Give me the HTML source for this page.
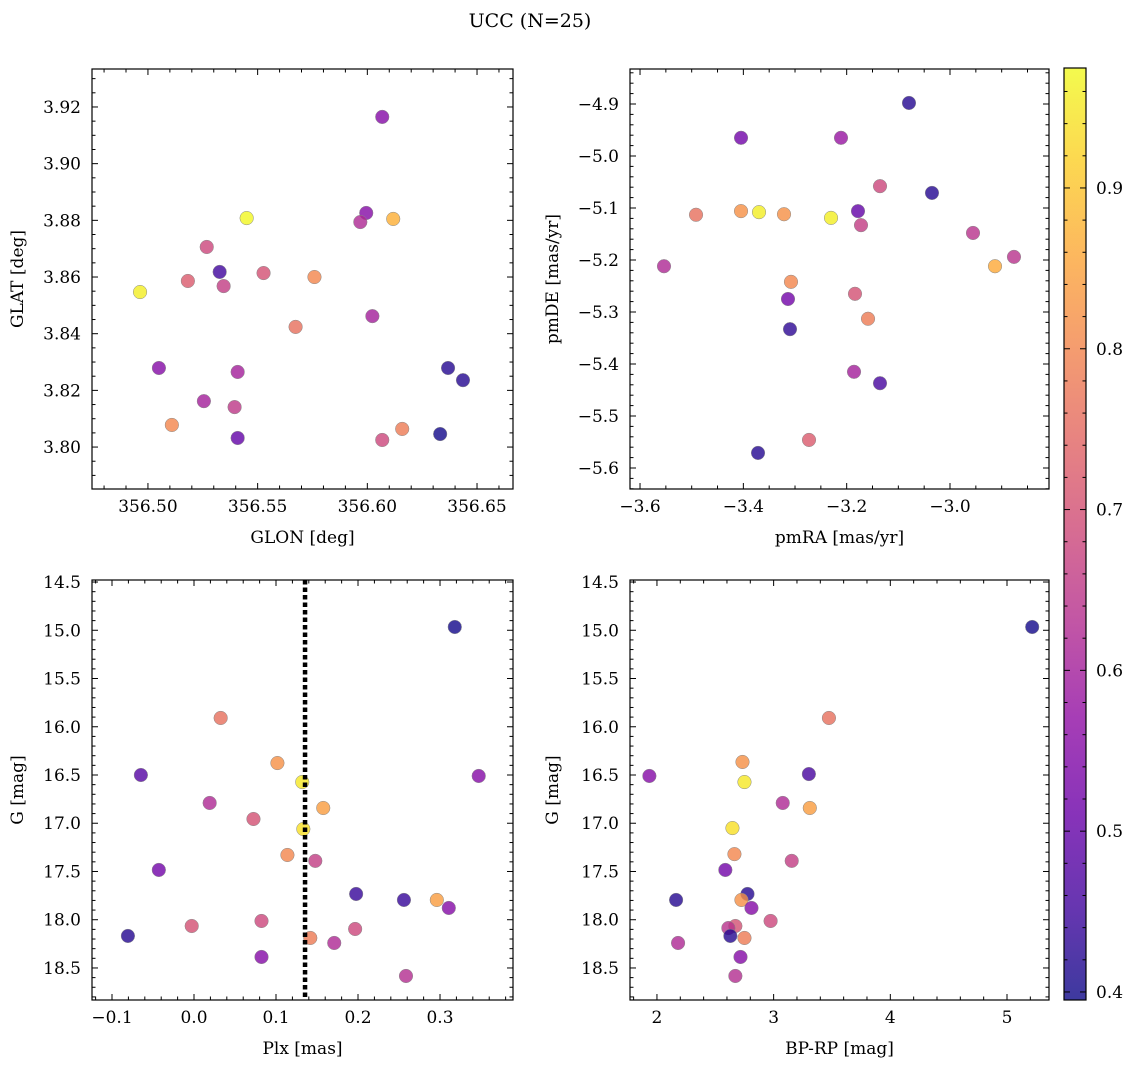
<!DOCTYPE html>
<html><head><meta charset="utf-8"><style>
html,body{margin:0;padding:0;background:#fff;}
svg{display:block;font-family:"DejaVu Serif","Liberation Serif",serif;}
</style></head><body>
<svg id="fig" width="1136" height="1068" viewBox="0 0 1136 1068" xmlns="http://www.w3.org/2000/svg">
<defs>
<linearGradient id="plasma" x1="0" y1="1" x2="0" y2="0">
<stop offset="0" stop-color="#0d0887"/><stop offset="0.1" stop-color="#41049d"/><stop offset="0.2" stop-color="#6a00a8"/><stop offset="0.3" stop-color="#8f0da4"/><stop offset="0.4" stop-color="#b12a90"/><stop offset="0.5" stop-color="#cc4778"/><stop offset="0.6" stop-color="#e16462"/><stop offset="0.7" stop-color="#f2844b"/><stop offset="0.8" stop-color="#fca636"/><stop offset="0.9" stop-color="#fcce25"/><stop offset="1" stop-color="#f0f921"/>
</linearGradient>
</defs>
<text x="530" y="27" font-size="19" text-anchor="middle">UCC (N=25)</text>
</svg>
<script>
// ---- data ----
const glon = [356.6068,356.5995,356.5968,356.5450,356.6118,356.5268,356.5327,356.5182,356.5345,356.5527,356.5759,356.4964,356.5673,356.6023,356.5050,356.6368,356.6436,356.5409,356.5255,356.5395,356.5109,356.5409,356.6068,356.6159,356.6332];
const glat = [3.9165,3.8826,3.8794,3.8808,3.8805,3.8706,3.8618,3.8586,3.8568,3.8614,3.8600,3.8547,3.8424,3.8462,3.8279,3.8279,3.8236,3.8265,3.8162,3.8141,3.8078,3.8032,3.8025,3.8064,3.8046];
const probPos = [0.55,0.55,0.62,0.97,0.87,0.68,0.45,0.72,0.66,0.70,0.80,0.96,0.76,0.60,0.55,0.42,0.42,0.60,0.60,0.65,0.80,0.50,0.68,0.78,0.40];

const pmra = [-3.0794,-3.4045,-3.211,-3.1355,-3.0349,-3.4916,-3.4045,-3.3697,-3.3213,-3.2303,-3.1781,-3.1723,-2.9555,-2.8762,-3.5536,-2.9129,-3.3078,-3.1839,-3.3136,-3.1587,-3.3097,-3.1858,-3.1355,-3.2729,-3.3716];
const pmde = [-4.898,-4.965,-4.965,-5.058,-5.071,-5.113,-5.106,-5.108,-5.112,-5.119,-5.106,-5.133,-5.148,-5.194,-5.212,-5.212,-5.242,-5.265,-5.275,-5.313,-5.333,-5.415,-5.437,-5.546,-5.571];
const probPm = [0.42,0.52,0.58,0.68,0.42,0.76,0.82,0.96,0.82,0.96,0.50,0.66,0.64,0.64,0.62,0.86,0.80,0.70,0.52,0.78,0.43,0.60,0.46,0.72,0.42];

const plx = [0.318,0.0325,-0.0648,0.1017,0.3472,0.132,0.0191,0.1576,0.0725,0.1333,0.1139,0.1479,-0.0429,0.1977,0.256,0.2961,0.3107,0.0823,-0.0028,-0.0806,0.1418,0.1965,0.171,0.0823,0.2585];
const gmagA = [14.966,15.909,16.50,16.376,16.51,16.573,16.79,16.842,16.956,17.06,17.329,17.39,17.484,17.733,17.795,17.795,17.878,18.013,18.065,18.168,18.189,18.096,18.241,18.386,18.583];
const probPlx = [0.40,0.76,0.48,0.82,0.55,0.95,0.62,0.84,0.70,0.94,0.80,0.66,0.52,0.44,0.44,0.84,0.55,0.68,0.70,0.42,0.78,0.68,0.62,0.55,0.63];
const plxMean = [0.1354];

const bprp = [5.216,3.474,2.733,2.750,3.302,1.935,3.078,3.310,2.647,2.664,3.155,2.586,2.164,2.776,2.724,2.810,2.974,2.672,2.612,2.629,2.750,2.181,2.716,2.672];
const gmagB = [14.966,15.909,16.365,16.573,16.49,16.51,16.79,16.842,17.05,17.32,17.39,17.484,17.795,17.733,17.795,17.878,18.013,18.065,18.086,18.168,18.189,18.241,18.386,18.583];
const probCmd = [0.40,0.76,0.82,0.95,0.46,0.55,0.62,0.84,0.94,0.80,0.66,0.52,0.42,0.42,0.82,0.55,0.68,0.70,0.64,0.42,0.78,0.62,0.55,0.63];

const cbTicks = [0.4,0.5,0.6,0.7,0.8,0.9];
const VMIN = 0.395, VMAX = 0.9746;

const NS = "http://www.w3.org/2000/svg";
const svg = document.getElementById('fig');
function mk(tag, attrs, parent){const e=document.createElementNS(NS,tag);for(const k in attrs)e.setAttribute(k,attrs[k]);(parent||svg).appendChild(e);return e;}

const stops=[[0,[13,8,135]],[0.1,[65,4,157]],[0.2,[106,0,168]],[0.3,[143,13,164]],[0.4,[177,42,144]],[0.5,[204,71,120]],[0.6,[225,100,98]],[0.7,[242,132,75]],[0.8,[252,166,54]],[0.9,[252,206,37]],[1,[240,249,33]]];
function plasma(v){let t=(v-VMIN)/(VMAX-VMIN);t=Math.max(0,Math.min(1,t));for(let i=1;i<stops.length;i++){if(t<=stops[i][0]){const a=stops[i-1],b=stops[i];const f=(t-a[0])/(b[0]-a[0]);const c=a[1].map((x,j)=>Math.round(x+(b[1][j]-x)*f));return `rgb(${c[0]},${c[1]},${c[2]})`;}}return 'rgb(240,249,33)';}

function fmt(v,d){let s=v.toFixed(d);if(v<0&&parseFloat(s)!==0)s='\u2212'+s.slice(1);if(parseFloat(s)===0)s=(0).toFixed(d);return s;}

function panel(o){
  const g=mk('g',{});
  
  
  const X=v=>o.x0+(v-o.xmin)/(o.xmax-o.xmin)*(o.x1-o.x0);
  const Y=o.invert?(v=>o.y0+(v-o.ymin)/(o.ymax-o.ymin)*(o.y1-o.y0)):(v=>o.y1-(v-o.ymin)/(o.ymax-o.ymin)*(o.y1-o.y0));
  const pg=mk('g',{},g);
  
  
  for(let i=0;i<o.xs.length;i++){
    const c=mk('circle',{cx:X(o.xs[i]),cy:Y(o.ys[i]),r:6.8,fill:plasma(o.cs[i]),'fill-opacity':0.8,stroke:'#888','stroke-width':0.5},pg);
    
    
  }
  if(o.vline){for(const v of o.vline){const l=mk('line',{x1:X(v),x2:X(v),y1:o.y0,y2:o.y1,stroke:'#000','stroke-width':4.5,'stroke-dasharray':'4.5,3'},g);
    
    }}
  const fr=mk('rect',{x:o.x0,y:o.y0,width:o.x1-o.x0,height:o.y1-o.y0,fill:'none',stroke:'#000','stroke-width':1.2},g);
  
  
  const xs0=Math.ceil((o.xmin-1e-9)/o.xminor)*o.xminor;
  for(let k=0;;k++){const v=xs0+k*o.xminor;if(v>o.xmax+1e-9)break;const px=X(v);const maj=Math.abs(v/o.xmajor-Math.round(v/o.xmajor))<1e-6;const L=maj?6:3.5;
    mk('line',{x1:px,x2:px,y1:o.y1,y2:o.y1-L,stroke:'#000','stroke-width':1},g);mk('line',{x1:px,x2:px,y1:o.y0,y2:o.y0+L,stroke:'#000','stroke-width':1},g);
    if(maj){const t=mk('text',{x:px,y:o.y1+23,'font-size':17,'text-anchor':'middle'},g);t.textContent=fmt(Math.round(v/o.xmajor)*o.xmajor,o.xd);
      }}
  const ys0=Math.ceil((o.ymin-1e-9)/o.yminor)*o.yminor;
  for(let k=0;;k++){const v=ys0+k*o.yminor;if(v>o.ymax+1e-9)break;const py=Y(v);const maj=Math.abs(v/o.ymajor-Math.round(v/o.ymajor))<1e-6;const L=maj?6:3.5;
    mk('line',{x1:o.x0,x2:o.x0+L,y1:py,y2:py,stroke:'#000','stroke-width':1},g);mk('line',{x1:o.x1,x2:o.x1-L,y1:py,y2:py,stroke:'#000','stroke-width':1},g);
    if(maj){const t=mk('text',{x:o.x0-11,y:py+6,'font-size':17,'text-anchor':'end'},g);t.textContent=fmt(Math.round(v/o.ymajor)*o.ymajor,o.yd);
      }}
  const xl=mk('text',{x:(o.x0+o.x1)/2,y:o.y1+54,'font-size':17,'text-anchor':'middle'},g);xl.textContent=o.xlabel;
  
  const yx=o.ylx, yy=(o.y0+o.y1)/2;
  const yl=mk('text',{x:yx,y:yy,'font-size':17,'text-anchor':'middle',transform:`rotate(-90 ${yx} ${yy})`},g);yl.textContent=o.ylabel;
  
}

panel({name:'glon-glat-panel',x0:92,x1:513,y0:69,y1:489,xmin:356.4745,xmax:356.6664,ymin:3.7852,ymax:3.9334,xmajor:0.05,xminor:0.01,ymajor:0.02,yminor:0.005,xd:2,yd:2,xs:glon,ys:glat,cs:probPos,xlabel:'GLON [deg]',ylabel:'GLAT [deg]',ylx:23});
panel({name:'proper-motion-panel',x0:630,x1:1049,y0:69,y1:489,xmin:-3.6194,xmax:-2.8084,ymin:-5.6404,ymax:-4.8327,xmajor:0.2,xminor:0.05,ymajor:0.1,yminor:0.02,xd:1,yd:1,xs:pmra,ys:pmde,cs:probPm,xlabel:'pmRA [mas/yr]',ylabel:'pmDE [mas/yr]',ylx:558});
panel({name:'plx-g-panel',x0:92,x1:513,y0:580,y1:1000,xmin:-0.1244,xmax:0.389,ymin:14.479,ymax:18.832,invert:true,xmajor:0.1,xminor:0.02,ymajor:0.5,yminor:0.1,xd:1,yd:1,xs:plx,ys:gmagA,cs:probPlx,vline:plxMean,xlabel:'Plx [mas]',ylabel:'G [mag]',ylx:23});
panel({name:'cmd-panel',x0:630,x1:1049,y0:580,y1:1000,xmin:1.769,xmax:5.36,ymin:14.479,ymax:18.832,invert:true,xmajor:1,xminor:0.2,ymajor:0.5,yminor:0.1,xd:0,yd:1,xs:bprp,ys:gmagB,cs:probCmd,xlabel:'BP-RP [mag]',ylabel:'G [mag]',ylx:558});

const cb=mk('g',{});


const cbx0=1064,cbx1=1086,cby0=68,cby1=1000;
mk('rect',{x:cbx0,y:cby0,width:cbx1-cbx0,height:cby1-cby0,fill:'url(#plasma)','fill-opacity':0.8},cb);
mk('rect',{x:cbx0,y:cby0,width:cbx1-cbx0,height:cby1-cby0,fill:'none',stroke:'#000','stroke-width':1.2},cb);
const CY=v=>cby1-(v-VMIN)/(VMAX-VMIN)*(cby1-cby0);
for(let k=0;k<30;k++){const v=0.4+k*0.02;if(v>VMAX)break;const py=CY(v);const maj=(k%5===0);const L=maj?6:3.5;
  mk('line',{x1:cbx1,x2:cbx1-L,y1:py,y2:py,stroke:'#000','stroke-width':1},cb);mk('line',{x1:cbx0,x2:cbx0+L,y1:py,y2:py,stroke:'#000','stroke-width':1},cb);}
for(const v of cbTicks){const t=mk('text',{x:cbx1+10,y:CY(v)+6,'font-size':17},cb);t.textContent=v.toFixed(1);
  }
</script>
</body></html>
